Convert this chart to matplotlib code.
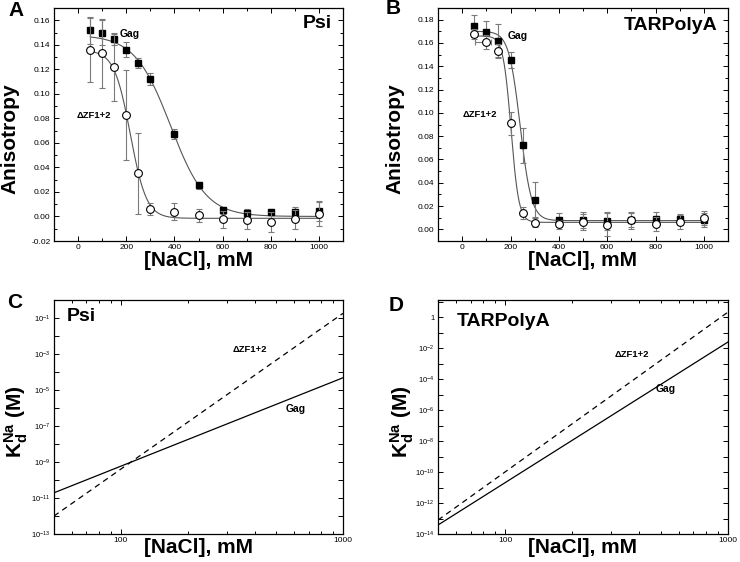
import numpy as np
import matplotlib
matplotlib.use('Agg')
import matplotlib.pyplot as plt
from matplotlib.ticker import MultipleLocator, FixedLocator, LogLocator, NullFormatter, FuncFormatter

plt.rcParams['font.family'] = ['Liberation Sans', 'DejaVu Sans']
plt.rcParams['mathtext.fontset'] = 'custom'
plt.rcParams['mathtext.rm'] = 'Liberation Sans'
plt.rcParams['mathtext.it'] = 'Liberation Sans:italic'
plt.rcParams['mathtext.bf'] = 'Liberation Sans:bold'

# NaCl concentraties (mM)
nacl = [50, 100, 150, 200, 250, 300, 400, 500, 600, 700, 800, 900, 1000]

# Paneel A - Psi, anisotropie
psi_gag = [0.152, 0.150, 0.1448, 0.136, 0.125, 0.112, 0.067, 0.0254, 0.0049, 0.003, 0.0038, 0.004, 0.0046]
psi_gag_err = [0.011, 0.010, 0.005, 0.006, 0.004, 0.005, 0.004, 0.003, 0.003, 0.003, 0.002, 0.004, 0.008]
psi_zf = [0.136, 0.133, 0.1215, 0.0828, 0.0352, 0.006, 0.0038, 0.0008, -0.0024, -0.0032, -0.0046, -0.0024, 0.002]
psi_zf_err = [0.026, 0.028, 0.027, 0.037, 0.033, 0.005, 0.007, 0.005, 0.007, 0.007, 0.008, 0.008, 0.010]

# Paneel B - TARPolyA, anisotropie
tar_gag = [0.1749, 0.1695, 0.162, 0.1453, 0.072, 0.0256, 0.0083, 0.008, 0.0071, 0.008, 0.0085, 0.0085, 0.0077]
tar_gag_err = [0.0095, 0.0095, 0.014, 0.007, 0.015, 0.015, 0.006, 0.007, 0.008, 0.006, 0.006, 0.005, 0.006]
tar_zf = [0.1678, 0.161, 0.153, 0.0911, 0.014, 0.0057, 0.0043, 0.0066, 0.004, 0.0077, 0.0048, 0.0063, 0.010]
tar_zf_err = [0.004, 0.006, 0.006, 0.010, 0.005, 0.004, 0.004, 0.007, 0.010, 0.007, 0.006, 0.006, 0.006]

fit_psi_gag = [0.148, 0.000, 384, 74]
fit_psi_zf = [0.1355, -0.0015, 217, 33.6]
fit_tar_gag = [0.170, 0.0075, 240, 23.5]
fit_tar_zf = [0.166, 0.006, 202, 16.3]

# Panelen C en D - log10 Kd bij 50 en 1000 mM
kd_x = [50, 1000]
psi_kd_gag = [-10.71, -4.32]
psi_kd_zf = [-12.0, -0.74]
tar_kd_gag = [-13.42, -1.61]
tar_kd_zf = [-13.1, 0.32]

W, H = 740, 562
fig = plt.figure(figsize=(7.4, 5.62), dpi=100)


def box(x0, x1, top, bot):
    return [x0 / W, 1 - bot / H, (x1 - x0) / W, (bot - top) / H]


axA = fig.add_axes(box(54, 343, 8, 241))
axB = fig.add_axes(box(438, 728, 8, 241))
axC = fig.add_axes(box(54, 343, 300, 534))
axD = fig.add_axes(box(438, 728, 300, 534))

lbl_font = dict(fontsize=15, fontweight='bold')
ebar_col = '#7a7a7a'


def boltz(x, p):
    return p[1] + (p[0] - p[1]) / (1 + np.exp((x - p[2]) / p[3]))


def stijl(ax):
    ax.tick_params(which='both', direction='in', top=True, right=True, labelsize=6, width=0.7, pad=2.5)
    ax.tick_params(which='major', length=3.5)
    ax.tick_params(which='minor', length=2)
    for s in ax.spines.values():
        s.set_linewidth(0.9)


def anisotropie(ax, gag, gag_err, zf, zf_err, fg, fz, ylim, zf_xerr=None):
    xs = np.linspace(50, 1000, 400)
    ax.plot(xs, boltz(xs, fg), color='#555555', lw=0.8, zorder=2)
    ax.plot(xs, boltz(xs, fz), color='#555555', lw=0.8, zorder=2)
    ax.errorbar(nacl, gag, yerr=gag_err, fmt='s', color='black', ms=5.0, mfc='black', mec='black',
                ecolor=ebar_col, elinewidth=0.8, capsize=2, capthick=0.8, zorder=3)
    ax.errorbar(nacl, zf, yerr=zf_err, xerr=zf_xerr, fmt='o', color='black', ms=5.6, mfc='white', mec='black',
                mew=0.8, ecolor=ebar_col, elinewidth=0.8, capsize=2, capthick=0.8, zorder=4)
    ax.set_xlim(-100, 1100)
    ax.set_ylim(*ylim)
    ax.xaxis.set_major_locator(MultipleLocator(200))
    ax.xaxis.set_minor_locator(MultipleLocator(100))
    ax.yaxis.set_major_locator(MultipleLocator(0.02))
    ax.yaxis.set_minor_locator(MultipleLocator(0.01))
    ax.yaxis.set_major_formatter(FuncFormatter(lambda v, p: '%.2f' % v))
    stijl(ax)
    ax.set_xlabel('[NaCl], mM', **lbl_font)
    ax.set_ylabel('Anisotropy', **lbl_font)
    ax.xaxis.set_label_coords(0.5, -0.043)


def kd_plot(ax, gag, zf, ylim, shown):
    ax.plot(kd_x, 10 ** np.array(gag), color='black', lw=0.9)
    ax.plot(kd_x, 10 ** np.array(zf), color='black', lw=0.9, dashes=(4.5, 3.5))
    ax.set_xscale('log')
    ax.set_yscale('log')
    ax.set_xlim(50, 1000)
    ax.set_ylim(*ylim)
    ax.xaxis.set_major_locator(FixedLocator([100, 1000]))
    ax.xaxis.set_minor_locator(LogLocator(base=10, subs=np.arange(2, 10)))
    ax.xaxis.set_minor_formatter(NullFormatter())
    ax.xaxis.set_major_formatter(FuncFormatter(lambda v, p: '%d' % v))
    ax.yaxis.set_major_locator(FixedLocator([10.0 ** e for e in range(-14, 2)]))
    ax.yaxis.set_minor_locator(FixedLocator([]))

    def fmt(v, p):
        e = int(round(np.log10(v)))
        if e not in shown:
            return ''
        return '1' if e == 0 else r'$10^{%d}$' % e
    ax.yaxis.set_major_formatter(FuncFormatter(fmt))
    stijl(ax)
    ax.tick_params(axis='y', labelsize=5.5)
    ax.set_xlabel('[NaCl], mM', **lbl_font)
    ax.set_ylabel(r'$\mathbf{K}_\mathbf{d}^\mathbf{Na}$ (M)', **lbl_font)
    ax.xaxis.set_label_coords(0.5, -0.015)


# A
anisotropie(axA, psi_gag, psi_gag_err, psi_zf, psi_zf_err, fit_psi_gag, fit_psi_zf, (-0.02, 0.17))
axA.yaxis.set_label_coords(-0.118, 0.44)
axA.text(0.911, 0.933, 'Psi', transform=axA.transAxes, ha='center', va='center', fontsize=14, fontweight='bold')
axA.text(174, 0.1488, 'Gag', ha='left', va='center', fontsize=7.5, fontweight='bold')
axA.text(-8, 0.0827, 'ΔZF1+2', ha='left', va='center', fontsize=6.8, fontweight='bold')

# B
xerr_b = [[0] * 13, [0] * 13]
xerr_b[0][1] = 48
xerr_b[1][1] = 19
anisotropie(axB, tar_gag, tar_gag_err, tar_zf, tar_zf_err, fit_tar_gag, fit_tar_zf, (-0.01, 0.19), zf_xerr=xerr_b)
axB.yaxis.set_label_coords(-0.114, 0.44)
axB.text(0.803, 0.927, 'TARPolyA', transform=axB.transAxes, ha='center', va='center', fontsize=14, fontweight='bold')
axB.text(190, 0.166, 'Gag', ha='left', va='center', fontsize=7.5, fontweight='bold')
axB.text(0, 0.099, 'ΔZF1+2', ha='left', va='center', fontsize=6.8, fontweight='bold')

# C
kd_plot(axC, psi_kd_gag, psi_kd_zf, (1e-13, 1), [-1, -3, -5, -7, -9, -11, -13])
axC.yaxis.set_label_coords(-0.083, 0.48)
axC.text(0.093, 0.929, 'Psi', transform=axC.transAxes, ha='center', va='center', fontsize=14, fontweight='bold')
axC.text(0.619, 0.79, 'ΔZF1+2', transform=axC.transAxes, ha='left', va='center', fontsize=6.8, fontweight='bold')
axC.text(0.803, 0.534, 'Gag', transform=axC.transAxes, ha='left', va='center', fontsize=7.5, fontweight='bold')

# D
kd_plot(axD, tar_kd_gag, tar_kd_zf, (1e-14, 10 ** 1.1), [0, -2, -4, -6, -8, -10, -12, -14])
axD.yaxis.set_label_coords(-0.076, 0.48)
axD.text(0.226, 0.91, 'TARPolyA', transform=axD.transAxes, ha='center', va='center', fontsize=14, fontweight='bold')
axD.text(0.61, 0.765, 'ΔZF1+2', transform=axD.transAxes, ha='left', va='center', fontsize=6.8, fontweight='bold')
axD.text(0.752, 0.62, 'Gag', transform=axD.transAxes, ha='left', va='center', fontsize=7.5, fontweight='bold')

# paneelletters
for letter, fx, fy in [('A', 16, 10), ('B', 393, 9), ('C', 15, 302.5), ('D', 396.5, 305.5)]:
    fig.text(fx / W, 1 - fy / H, letter, ha='center', va='center', fontsize=15, fontweight='bold')

fig.savefig('out.png', dpi=100)
